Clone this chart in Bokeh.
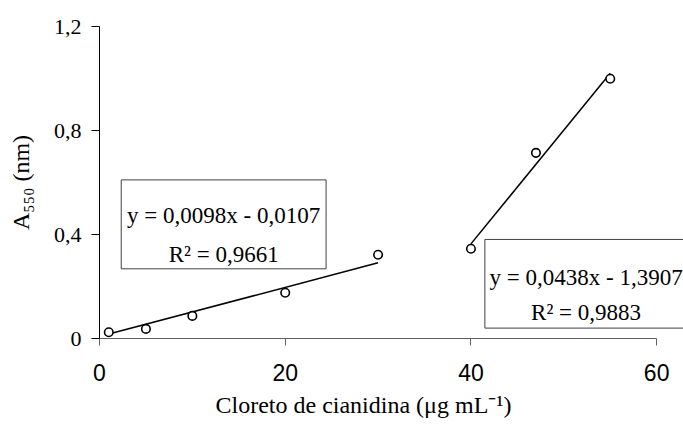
from bokeh.plotting import figure
from bokeh.models import Range1d, FixedTicker, Label, BoxAnnotation, Title
from bokeh.embed import file_html
from bokeh.resources import INLINE

# ---- data ----
series1_x = [1, 5, 10, 20, 30]
series1_y = [0.024, 0.037, 0.087, 0.176, 0.322]
series2_x = [40, 47, 55]
series2_y = [0.345, 0.714, 0.999]
trend1_x = [1, 30]
trend1_y = [0.017, 0.291]
trend2_x = [40, 55]
trend2_y = [0.364, 1.020]

x_ticks = [0, 20, 40, 60]
x_tick_labels = ["0", "20", "40", "60"]
y_ticks = [0, 0.4, 0.8, 1.2]
y_tick_labels = ["0", "0,4", "0,8", "1,2"]

eq1_lines = ["y = 0,0098x - 0,0107", "R\u00b2 = 0,9661"]
eq2_lines = ["y = 0,0438x - 1,3907", "R\u00b2 = 0,9883"]
x_title = "Cloreto de cianidina (\u03bcg mL\u207b\u00b9)"
y_title = "A\u2085\u2085\u2080 (nm)"

SERIF = "Liberation Serif"
SANS = "Liberation Sans"

p = figure(width=683, height=430, output_backend="svg", toolbar_location=None,
           x_range=Range1d(0, 62.89), y_range=Range1d(0, 1.2),
           min_border_left=99, min_border_right=0, min_border_top=26, min_border_bottom=92)
p.outline_line_color = None
p.xgrid.visible = False
p.ygrid.visible = False
p.background_fill_color = "white"
p.border_fill_color = "white"

# x axis
xa = p.xaxis[0]
xa.bounds = (0, 60)
xa.ticker = FixedTicker(ticks=x_ticks, minor_ticks=[])
xa.major_label_overrides = {t: l for t, l in zip(x_ticks, x_tick_labels)}
xa.major_label_text_font = SANS
xa.major_label_text_font_size = "23px"
xa.major_label_text_color = "black"
xa.axis_line_color = "#606060"
xa.major_tick_line_color = "#606060"
xa.major_tick_out = 7
xa.major_tick_in = 0
xa.minor_tick_line_color = None
xa.major_label_standoff = 18

# y axis
ya = p.yaxis[0]
ya.bounds = (0, 1.2)
ya.ticker = FixedTicker(ticks=y_ticks, minor_ticks=[])
ya.major_label_overrides = {t: l for t, l in zip(y_ticks, y_tick_labels)}
ya.major_label_text_font = SERIF
ya.major_label_text_font_size = "22px"
ya.major_label_text_color = "black"
ya.axis_line_color = "black"
ya.major_tick_line_color = "black"
ya.major_tick_out = 8
ya.major_tick_in = 0
ya.minor_tick_line_color = None
ya.major_label_standoff = 10
ya.axis_label = y_title
ya.axis_label_text_font = SERIF
ya.axis_label_text_font_size = "24px"
ya.axis_label_text_font_style = "normal"
ya.axis_label_text_color = "black"
ya.axis_label_standoff = 17

# x axis title
p.add_layout(Title(text=x_title, align="left", offset=116, text_font=SERIF,
                   text_font_size="24px", text_font_style="normal", text_color="black",
                   standoff=12), "below")

# trend lines
p.line(trend1_x, trend1_y, line_color="black", line_width=1.5)
p.line(trend2_x, trend2_y, line_color="black", line_width=1.5)

# points
p.scatter(series1_x, series1_y, marker="circle", size=8.5, fill_color="white",
          line_color="black", line_width=1.6)
p.scatter(series2_x, series2_y, marker="circle", size=8.5, fill_color="white",
          line_color="black", line_width=1.6)

# equation boxes
box1 = BoxAnnotation(left=2.34, right=24.4, bottom=0.268, top=0.610,
                     fill_color="white", fill_alpha=1.0,
                     line_color="#404040", line_alpha=1.0, line_width=1)
box2 = BoxAnnotation(left=41.5, right=100, bottom=0.040, top=0.381,
                     fill_color="white", fill_alpha=1.0,
                     line_color="#404040", line_alpha=1.0, line_width=1)
p.add_layout(box1)
p.add_layout(box2)

def add_text(x, y, text, size="23px"):
    p.add_layout(Label(x=x, y=y, text=text, text_font=SERIF, text_font_size=size,
                       text_color="black", text_align="center", text_baseline="alphabetic"))

add_text(13.37, 0.473, eq1_lines[0])
add_text(13.37, 0.323, eq1_lines[1])
add_text(52.4, 0.235, eq2_lines[0])
add_text(52.4, 0.101, eq2_lines[1])

open("out.html", "w").write(file_html(p, INLINE))
